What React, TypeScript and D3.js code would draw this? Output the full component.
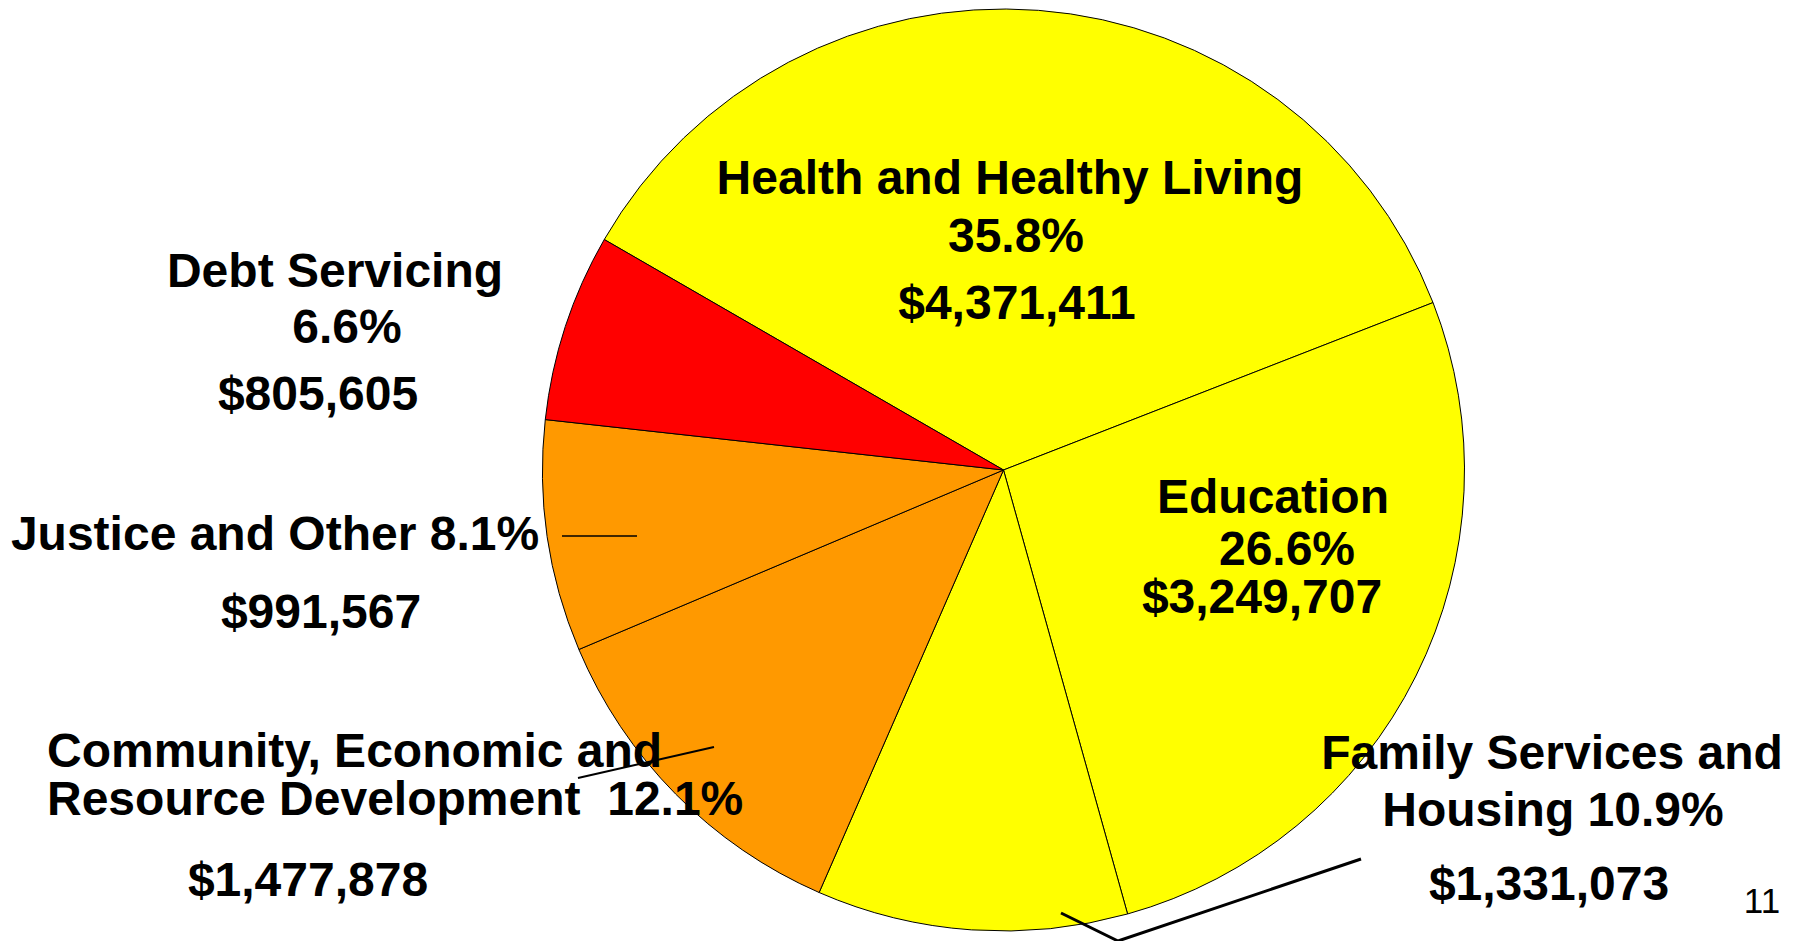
import React from "react";
import * as d3 from "d3";

const categories = [
  "Health and Healthy Living",
  "Education",
  "Family Services and Housing",
  "Community, Economic and Resource Development",
  "Justice and Other",
  "Debt Servicing",
];
const amounts = [4371411, 3249707, 1331073, 1477878, 991567, 805605];
const percents = [35.8, 26.6, 10.9, 12.1, 8.1, 6.6];
const colors = ["#FFFF00", "#FFFF00", "#FFFF00", "#FF9900", "#FF9900", "#FF0000"];
const pageNumber = "11";

const fmt = (v: number) => "$" + d3.format(",")(v);
const pct = (p: number) => d3.format(".1f")(p) + "%";

// label text lines per slice (built from data)
const labelLines: string[][] = [
  [categories[0], pct(percents[0]), fmt(amounts[0])],
  ["Education", pct(percents[1]), fmt(amounts[1])],
  ["Family Services and", "Housing " + pct(percents[2]), fmt(amounts[2])],
  ["Community, Economic and", "Resource Development  " + pct(percents[3]), fmt(amounts[3])],
  ["Justice and Other " + pct(percents[4]), fmt(amounts[4])],
  ["Debt Servicing", pct(percents[5]), fmt(amounts[5])],
];

// layout (positions of each label line: [x, baseline y, anchor])
const labelLayout: [number, number, string][][] = [
  [[1010, 194, "middle"], [1016, 252, "middle"], [1017, 319, "middle"]],
  [[1273, 513, "middle"], [1287, 565, "middle"], [1262, 613, "middle"]],
  [[1552, 769, "middle"], [1553, 826, "middle"], [1549, 900, "middle"]],
  [[47, 767, "start"], [47, 815, "start"], [308, 896, "middle"]],
  [[275, 550, "middle"], [321, 628, "middle"]],
  [[335, 287, "middle"], [347, 343, "middle"], [318, 410, "middle"]],
];

const leaders: { pts: [number, number][]; w: number }[] = [
  { pts: [[562, 536], [637, 536]], w: 1.5 },
  { pts: [[578, 778], [714, 747]], w: 2 },
  { pts: [[1061, 913], [1118, 941], [1361, 859]], w: 3 },
];

const W = 1798;
const H = 941;
const cx = 1003.5;
const cy = 470;
const R = 461;

export default function App() {
  const pie = d3
    .pie<number>()
    .sort(null)
    .value((d) => d)
    .startAngle((-60 * Math.PI) / 180)
    .endAngle((300 * Math.PI) / 180);
  const arcs = pie(amounts);
  const arc = d3.arc<d3.PieArcDatum<number>>().innerRadius(0).outerRadius(R);
  const line = d3.line();

  return (
    <svg
      width={W}
      height={H}
      style={{ position: "fixed", left: 0, top: 0, background: "#fff" }}
      fontFamily="'Liberation Sans', Arial, sans-serif"
    >
      <rect x={0} y={0} width={W} height={H} fill="#fff" />
      <g transform={`translate(${cx},${cy})`}>
        {arcs.map((a, i) => (
          <path key={i} d={arc(a) || ""} fill={colors[i]} stroke="#000" strokeWidth={1} />
        ))}
      </g>
      {labelLines.map((lines, i) =>
        lines.map((t, j) => {
          const [x, y, anchor] = labelLayout[i][j];
          return (
            <text
              key={`${i}-${j}`}
              x={x}
              y={y}
              textAnchor={anchor as any}
              fontSize={48}
              fontWeight="bold"
              fill="#000"
              style={{ whiteSpace: "pre" }}
            >
              {t}
            </text>
          );
        })
      )}
      {leaders.map((l, i) => (
        <path key={i} d={line(l.pts) || ""} fill="none" stroke="#000" strokeWidth={l.w} />
      ))}
      <text x={1762} y={913} textAnchor="middle" fontSize={35} fill="#000">
        {pageNumber}
      </text>
    </svg>
  );
}
